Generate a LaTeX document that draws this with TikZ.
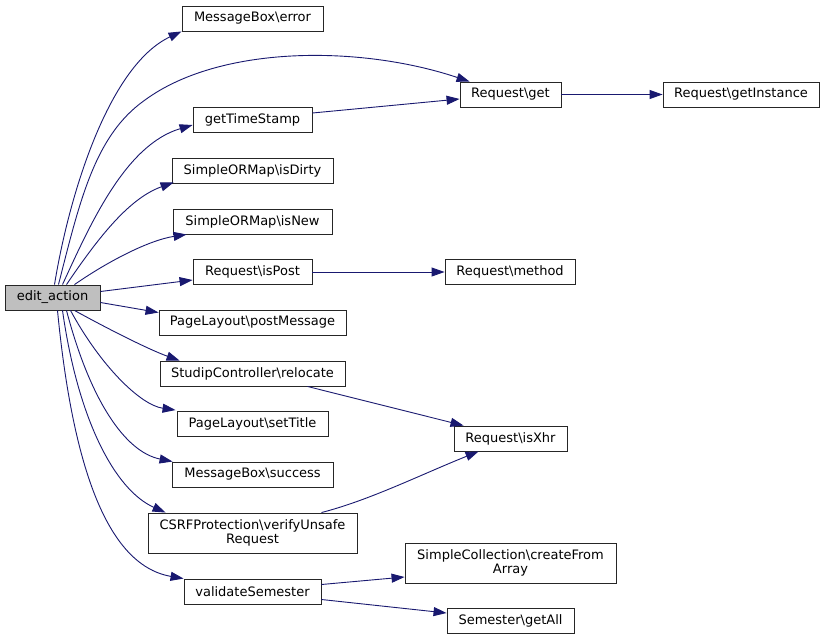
\documentclass[tikz,border=0pt]{standalone}
\usepackage{fontspec}
\setmainfont{DejaVu Sans}
\usetikzlibrary{arrows.meta}
\definecolor{edgecol}{HTML}{191970}
\definecolor{boxgray}{HTML}{BFBFBF}
\tikzset{
  fn/.style={draw=black!85, line width=0.9pt, fill=white, inner sep=0pt, align=center,
    font=\fontsize{13}{14}\selectfont, minimum height=25pt},
  fn2/.style={fn, minimum height=40pt, font=\fontsize{13}{14}\selectfont},
  call/.style={draw=edgecol, line width=0.9pt, -{Triangle[length=13pt,width=9pt]}, fill=none},
}
\begin{document}
\begin{tikzpicture}[x=1pt,y=-1pt]
\useasboundingbox (0,0) rectangle (824,640);
\fill[white] (0,0) rectangle (824,640);
% nodes
\node[fn, fill=boxgray, minimum width=95pt] (edit) at (52.5,297.5) {edit\_action};
\node[fn, minimum width=141pt] (err) at (252.5,18.5) {MessageBox\textbackslash error};
\node[fn, minimum width=101pt] (get) at (510.5,94.5) {Request\textbackslash get};
\node[fn, minimum width=156pt] (inst) at (741,94.5) {Request\textbackslash getInstance};
\node[fn, minimum width=119pt] (ts) at (252.5,120) {getTimeStamp};
\node[fn, minimum width=161pt] (dirty) at (252.5,170.5) {SimpleORMap\textbackslash isDirty};
\node[fn, minimum width=159pt] (isnew) at (252.5,221.5) {SimpleORMap\textbackslash isNew};
\node[fn, minimum width=119pt] (ispost) at (252.5,272) {Request\textbackslash isPost};
\node[fn, minimum width=130pt] (method) at (510,272) {Request\textbackslash method};
\node[fn, minimum width=187pt] (postmsg) at (252.5,322.5) {PageLayout\textbackslash postMessage};
\node[fn, minimum width=185pt] (reloc) at (252.5,373.5) {StudipController\textbackslash relocate};
\node[fn, minimum width=151pt] (settitle) at (252.5,424) {PageLayout\textbackslash setTitle};
\node[fn, minimum width=113pt] (isxhr) at (510.5,438.5) {Request\textbackslash isXhr};
\node[fn, minimum width=161pt] (success) at (252.5,474.5) {MessageBox\textbackslash success};
\node[fn2, minimum width=209pt] (csrf) at (252.5,533) {CSRFProtection\textbackslash verifyUnsafe\\Request};
\node[fn2, minimum width=211pt] (create) at (510.5,563) {SimpleCollection\textbackslash createFrom\\Array};
\node[fn, minimum width=137pt] (valsem) at (252.5,591.5) {validateSemester};
\node[fn, minimum width=127pt] (getall) at (510.5,621) {Semester\textbackslash getAll};
% edges from edit_action
\draw[call] ([xshift=2pt]edit.north) .. controls (70,190) and (110,65) .. (err.south west);
\draw[call] ([xshift=6pt]edit.north) .. controls (80,200) and (95,135) .. (145,100)
  .. controls (220,45) and (360,45) .. ([xshift=10pt]get.north west);
\draw[call] ([xshift=10pt]edit.north) .. controls (90,225) and (125,145) .. ([yshift=-5pt]ts.west);
\draw[call] ([xshift=14pt]edit.north) .. controls (100,235) and (130,198) .. ([xshift=2pt,yshift=1pt]dirty.south west);
\draw[call] ([xshift=22pt]edit.north) .. controls (110,260) and (150,240) .. ([xshift=14pt]isnew.south west);
\draw[call] ([yshift=6pt]edit.east) -- ([yshift=-8pt]ispost.west);
\draw[call] ([yshift=-5pt]edit.east) -- ([yshift=10pt]postmsg.west);
\draw[call] ([xshift=22pt]edit.south) .. controls (110,330) and (150,350) .. ([xshift=20pt]reloc.north west);
\draw[call] ([xshift=18pt]edit.south) .. controls (100,365) and (140,405) .. ([xshift=-1pt,yshift=1pt]settitle.north west);
\draw[call] ([xshift=14pt]edit.south) .. controls (90,400) and (125,452) .. ([xshift=1pt]success.north west);
\draw[call] ([xshift=10pt]edit.south) .. controls (78,420) and (115,490) .. ([xshift=18pt]csrf.north west);
\draw[call] ([xshift=5pt]edit.south) .. controls (72,460) and (105,565) .. (valsem.north west);
% other edges
\draw[call] (get.east) -- (inst.west);
\draw[call] ([yshift=7pt]ts.east) -- ([yshift=-4.5pt]get.west);
\draw[call] (ispost.east) -- (method.west);
\draw[call] ([xshift=-38pt]reloc.south east) -- ([xshift=10pt]isxhr.north west);
\draw[call] ([xshift=-36pt]csrf.north east) .. controls (370,500) and (420,475) .. ([xshift=25pt]isxhr.south west);
\draw[call] ([yshift=7pt]valsem.east) -- ([yshift=-14pt]create.west);
\draw[call] ([yshift=-8pt]valsem.east) -- ([yshift=8pt]getall.west);
\end{tikzpicture}
\end{document}
